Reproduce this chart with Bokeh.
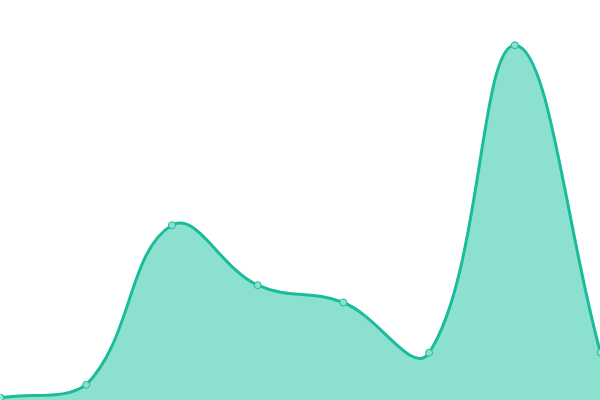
import numpy as np
from bokeh.plotting import figure
from bokeh.models import Range1d
from bokeh.embed import file_html
from bokeh.resources import INLINE

# data
categories = [0, 1, 2, 3, 4, 5, 6, 7]
values = [2.7, 15.7, 175.3, 115.3, 98, 47.7, 355.3, 48]

LINE = "#1abc9c"
AREA = "#8ce0cf"
TENSION = 0.4

p = figure(width=600, height=400, x_range=Range1d(0, 7), y_range=Range1d(0, 400),
           min_border=0, toolbar_location=None, output_backend="svg")
p.axis.visible = False
p.grid.visible = False
p.outline_line_color = None
p.background_fill_color = "white"
p.border_fill_color = "white"

x = np.array(categories, dtype=float)
y = np.array(values, dtype=float)
n = len(x)
SX = 600 / 7.0  # pixel per x unit (for distance weighting)

# spline control points (tension-based, distance-weighted)
cprev = np.zeros((n, 2)); cnext = np.zeros((n, 2))
for i in range(n):
    a = max(i - 1, 0); b = min(i + 1, n - 1)
    d01 = np.hypot((x[i] - x[a]) * SX, y[i] - y[a])
    d12 = np.hypot((x[b] - x[i]) * SX, y[b] - y[i])
    s = d01 + d12
    fa = TENSION * d01 / s if s else 0
    fb = TENSION * d12 / s if s else 0
    vx = x[b] - x[a]; vy = y[b] - y[a]
    cprev[i] = [x[i] - fa * vx, y[i] - fa * vy]
    cnext[i] = [x[i] + fb * vx, y[i] + fb * vy]
cprev[:, 1] = np.clip(cprev[:, 1], 0, 400); cnext[:, 1] = np.clip(cnext[:, 1], 0, 400)
cprev[:, 0] = np.clip(cprev[:, 0], 0, 7); cnext[:, 0] = np.clip(cnext[:, 0], 0, 7)

x0 = x[:-1]; y0 = y[:-1]; x1 = x[1:]; y1 = y[1:]
cx0 = cnext[:-1, 0]; cy0 = cnext[:-1, 1]
cx1 = cprev[1:, 0]; cy1 = cprev[1:, 1]

# sampled curve for area fill
t = np.linspace(0, 1, 40)[:, None]
bx = ((1 - t) ** 3 * x0 + 3 * (1 - t) ** 2 * t * cx0 + 3 * (1 - t) * t ** 2 * cx1 + t ** 3 * x1).T.ravel()
by = ((1 - t) ** 3 * y0 + 3 * (1 - t) ** 2 * t * cy0 + 3 * (1 - t) * t ** 2 * cy1 + t ** 3 * y1).T.ravel()

p.varea(x=bx, y1=np.zeros_like(by), y2=by, fill_color=AREA, fill_alpha=1.0)
p.bezier(x0=x0, y0=y0, x1=x1, y1=y1, cx0=cx0, cy0=cy0, cx1=cx1, cy1=cy1,
         line_color=LINE, line_width=3)
p.scatter(x, y, size=7, marker="circle", fill_color=AREA, line_color=LINE, line_width=1)

html = file_html(p, INLINE)
html = html.replace("<body>", '<body style="margin:0;overflow:hidden">', 1)
open("out.html", "w").write(html)
